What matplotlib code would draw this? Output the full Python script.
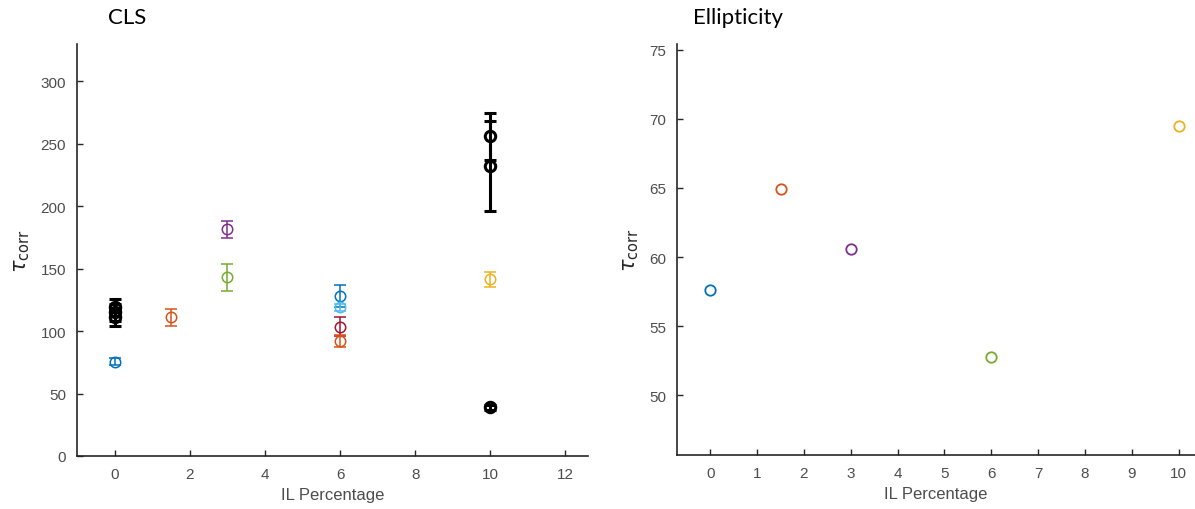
import matplotlib
matplotlib.use('Agg')
import matplotlib.pyplot as plt

# CLS panel: coloured points with error bars
CLS_X = [0, 1.5, 3, 3, 6, 6, 6, 6, 10]
CLS_Y = [75.5, 111, 181.5, 143, 128, 119, 103.5, 92, 141.5]
CLS_ERR = [3, 6.5, 6.5, 11, 9, 3, 7.5, 5, 6]
CLS_COLORS = ['#0072BD', '#D95319', '#7E2F8E', '#77AC30', '#0072BD',
              '#4DBEEE', '#A2142F', '#D95319', '#EDB120']

# CLS panel: black (bold) points with error bars
BLK_X = [0, 0, 0, 10, 10, 10]
BLK_Y = [119, 115, 111, 256, 232, 39]
BLK_ERR = [7, 7, 7, 19, 36, 2]

# Ellipticity panel
ELL_X = [0, 1.5, 3, 6, 10]
ELL_Y = [57.6, 64.9, 60.6, 52.8, 69.5]
ELL_COLORS = ['#0072BD', '#D95319', '#7E2F8E', '#77AC30', '#EDB120']

AX_COL = '#262626'
TICK_COL = '#4d4d4d'

plt.rcParams['font.family'] = ['Liberation Sans', 'DejaVu Sans']
plt.rcParams['mathtext.fontset'] = 'dejavusans'

fig = plt.figure(figsize=(11.95, 5.1), dpi=100)
ax1 = fig.add_axes([77 / 1195, 1 - 457 / 510, (588 - 77) / 1195, (457 - 45) / 510])
ax2 = fig.add_axes([677 / 1195, 1 - 456 / 510, (1195 - 677) / 1195, (456 - 45) / 510])

for x, y, e, c in zip(CLS_X, CLS_Y, CLS_ERR, CLS_COLORS):
    ax1.errorbar(x, y, yerr=e, fmt='o', mfc='none', mec=c, ecolor=c, ms=7.5,
                 mew=1.1, elinewidth=1.1, capsize=4, capthick=1.1, zorder=3)
for x, y, e in zip(BLK_X, BLK_Y, BLK_ERR):
    ax1.errorbar(x, y, yerr=e, fmt='o', mfc='none', mec='black', ecolor='black', ms=7.5,
                 mew=2.2, elinewidth=2.2, capsize=4.5, capthick=2.2, zorder=4)

for x, y, c in zip(ELL_X, ELL_Y, ELL_COLORS):
    ax2.plot(x, y, 'o', mfc='none', mec=c, ms=7.5, mew=1.3)

ax1.set_xlim(-1, 12.6)
ax1.set_ylim(0, 330)
ax1.set_xticks(range(0, 13, 2))
ax1.set_yticks(range(0, 301, 50))

ax2.set_xlim(-0.71, 10.35)
ax2.set_ylim(45.7, 75.4)
ax2.set_xticks(range(0, 11))
ax2.set_yticks(range(50, 76, 5))

for ax in (ax1, ax2):
    for s in ('top', 'right'):
        ax.spines[s].set_visible(False)
    for s in ('left', 'bottom'):
        ax.spines[s].set_color(AX_COL)
        ax.spines[s].set_linewidth(1.2)
    ax.tick_params(direction='in', length=4, width=1, color=AX_COL,
                   labelcolor=TICK_COL, labelsize=11, pad=8)
    ax.set_xlabel('IL Percentage', fontsize=12, color=TICK_COL, labelpad=4)
    ax.set_ylabel(r'$\tau_{\mathrm{corr}}$', fontsize=15, color=AX_COL, labelpad=6)

fig.text(108 / 1195, 1 - 18 / 510, 'CLS', fontsize=16, family=['Lato', 'DejaVu Sans'],
         va='center', ha='left')
fig.text(693 / 1195, 1 - 18 / 510, 'Ellipticity', fontsize=16, family=['Lato', 'DejaVu Sans'],
         va='center', ha='left')

fig.savefig('out.png', dpi=100)
